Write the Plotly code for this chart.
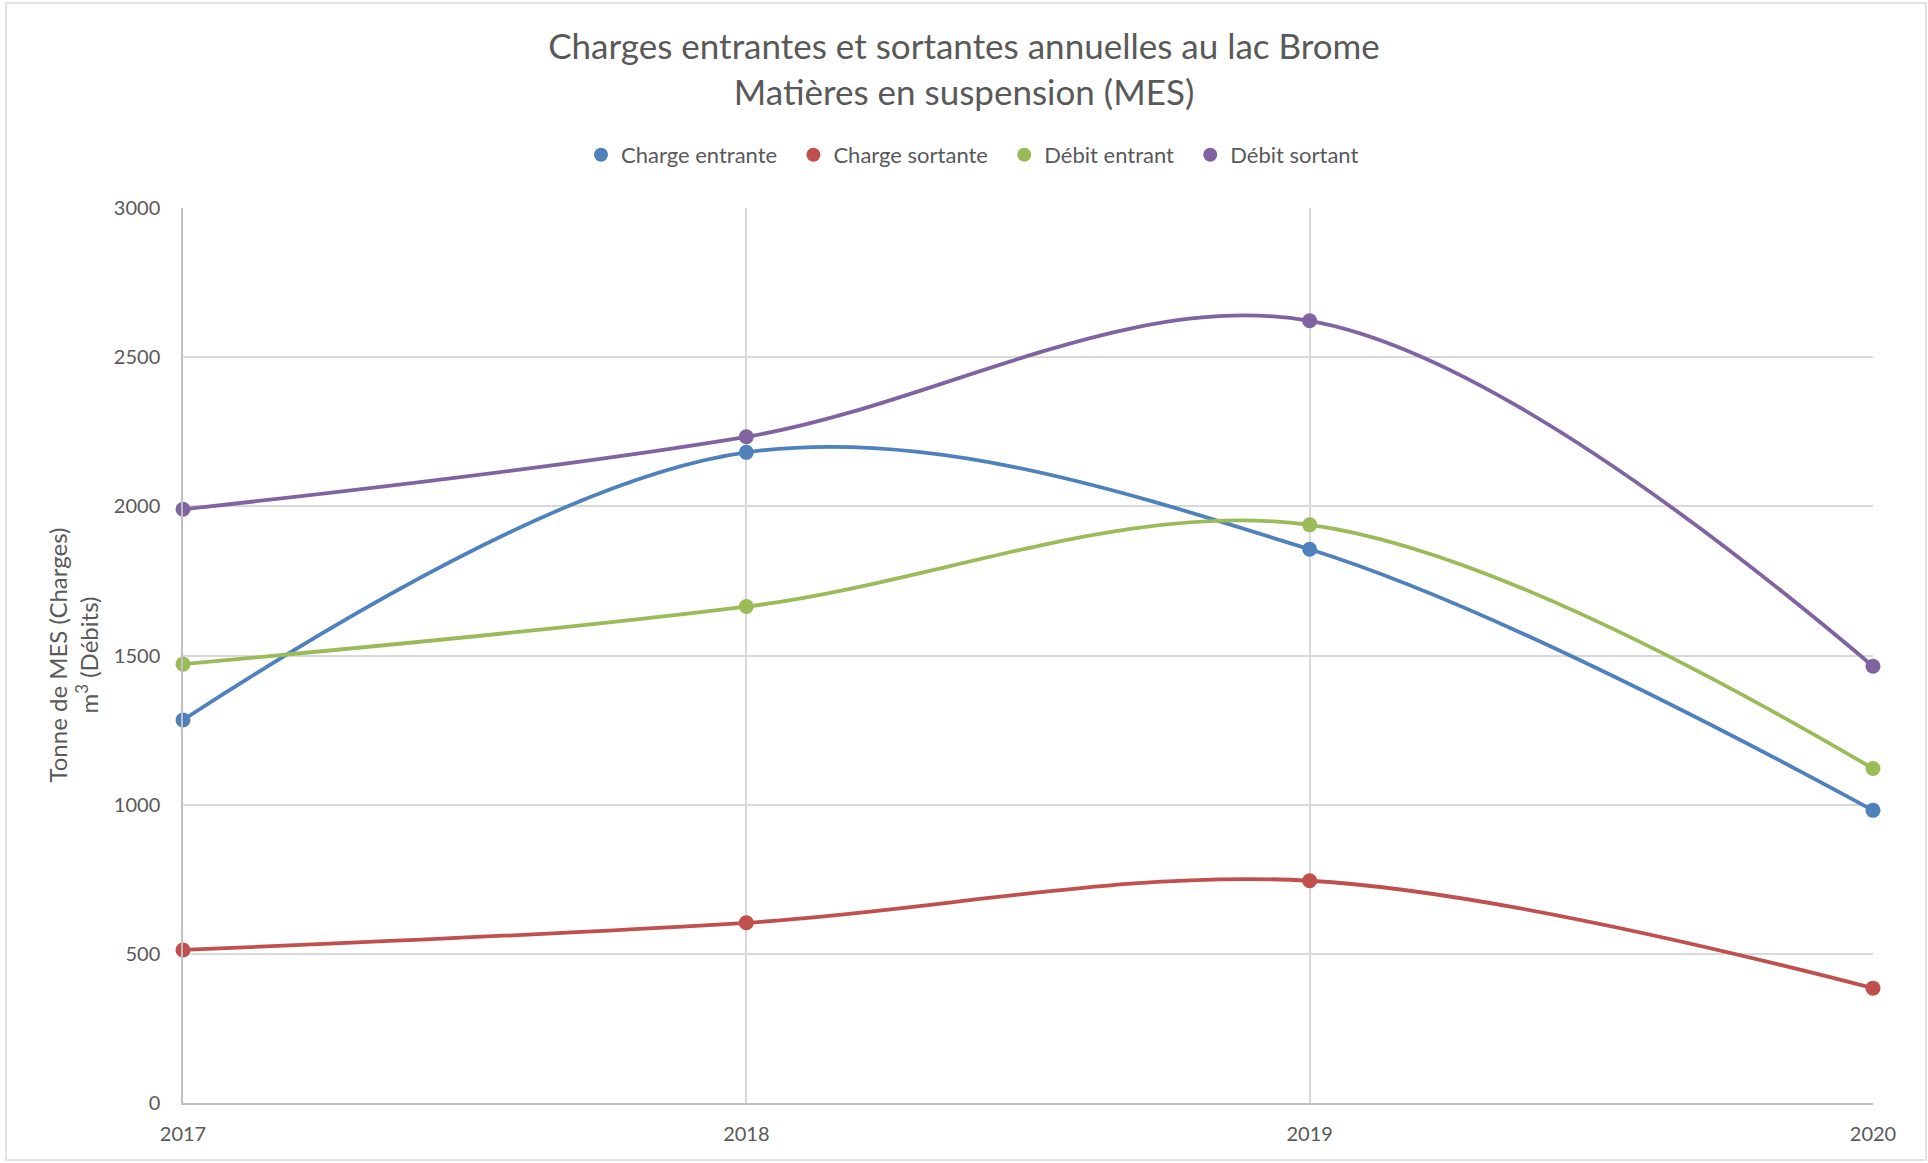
import plotly.graph_objects as go

years = [2017, 2018, 2019, 2020]
charge_entrante = [1284, 2181, 1856, 981]
charge_sortante = [513, 604, 745, 385]
debit_entrant = [1471, 1664, 1938, 1121]
debit_sortant = [1990, 2233, 2622, 1464]

series = [
    ("Charge entrante", charge_entrante, "#4F81BD"),
    ("Charge sortante", charge_sortante, "#C0504D"),
    ("Débit entrant", debit_entrant, "#9BBB59"),
    ("Débit sortant", debit_sortant, "#8064A2"),
]

FONT = "Lato"
TXT = "#595959"

W, H = 1928, 1163
L, R, T, B = 183, 55, 208, 60
pw, ph = W - L - R, H - T - B

fig = go.Figure()
for name, vals, col in series:
    fig.add_trace(go.Scatter(
        x=years, y=vals, name=name, mode="lines+markers",
        line=dict(color=col, width=3.8, shape="spline", smoothing=1),
        marker=dict(color=col, size=15),
        showlegend=False, cliponaxis=False,
    ))
NB = "\u00a0"
for name, vals, col in series:
    fig.add_trace(go.Scatter(
        x=[None], y=[None], name=name + NB * 2, mode="markers",
        marker=dict(color=col, size=14), showlegend=True,
    ))

def px_x(p):
    return (p - L) / pw

def px_y(p):
    return (H - B - p) / ph

fig.add_shape(type="rect", xref="paper", yref="paper",
              x0=px_x(6), x1=px_x(1926), y0=px_y(1160), y1=px_y(3),
              line=dict(color="#D9D9D9", width=1.5), layer="below")

fig.add_annotation(
    text="Tonne de MES (Charges)<br>m<sup>3</sup> (Débits)",
    textangle=-90, xref="paper", yref="paper",
    x=px_x(72), y=0.5, xanchor="center", yanchor="middle",
    showarrow=False, font=dict(family=FONT, size=24, color=TXT),
)

fig.update_layout(
    width=W, height=H,
    margin=dict(l=L, r=R, t=T, b=B),
    paper_bgcolor="white", plot_bgcolor="white",
    font=dict(family=FONT, color=TXT),
    title=dict(
        text="Charges entrantes et sortantes annuelles au lac Brome<br>Matières en suspension (MES)",
        x=0.5, xref="container", xanchor="center",
        y=1 - 59 / H, yref="container", yanchor="middle",
        font=dict(family=FONT, size=35, color=TXT),
    ),
    legend=dict(
        orientation="h", x=px_x(978), xanchor="center",
        y=px_y(155), yanchor="middle",
        font=dict(family=FONT, size=22, color=TXT),
        itemwidth=30, bgcolor="rgba(0,0,0,0)",
    ),
    xaxis=dict(
        range=[2017, 2020], tickvals=years, ticktext=[str(y) for y in years],
        showgrid=True, gridcolor="#D9D9D9", gridwidth=1.5,
        showline=True, linecolor="#BFBFBF", linewidth=1.5,
        ticks="", tickfont=dict(family=FONT, size=20, color=TXT),
        zeroline=False, ticklabelstandoff=12,
    ),
    yaxis=dict(
        range=[0, 3000], dtick=500,
        showgrid=True, gridcolor="#D9D9D9", gridwidth=1.5,
        showline=True, linecolor="#BFBFBF", linewidth=1.5,
        ticks="", tickfont=dict(family=FONT, size=20, color=TXT),
        zeroline=False, ticklabelstandoff=17,
    ),
)

fig.write_html("out.html")
